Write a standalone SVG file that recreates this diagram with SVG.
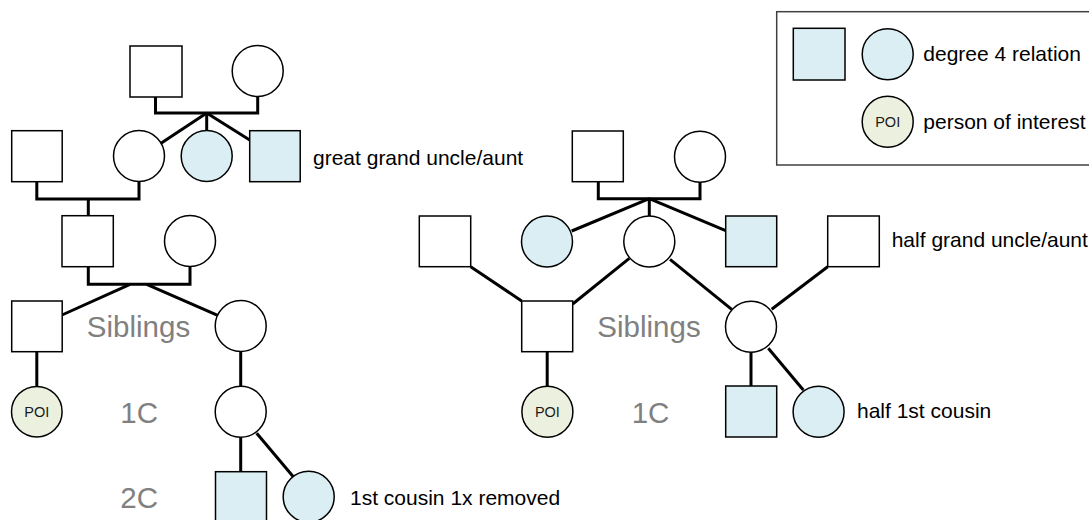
<svg xmlns="http://www.w3.org/2000/svg" width="1089" height="520" viewBox="0 0 1089 520">
  <style>
    .nd { fill: #ffffff; stroke: #000000; stroke-width: 1.5; }
    .d4 { fill: #DAEEF3; }
    .poi { fill: #EBF1DE; }
    .conn path { fill: none; stroke: #000000; stroke-width: 3; stroke-linejoin: miter; }
    .lbl { font-family: "Liberation Sans", Arial, sans-serif; font-size: 21px; fill: #000000; }
    .gen { font-family: "Liberation Sans", Arial, sans-serif; font-size: 29.5px; fill: #808080; text-anchor: middle; }
    .poit { font-family: "Liberation Sans", Arial, sans-serif; font-size: 14.5px; fill: #1a1a1a; text-anchor: middle; }
    .legend { fill: #ffffff; stroke: #404040; stroke-width: 1.5; }
  </style>

  <rect width="1089" height="520" fill="#ffffff"/>

  <!-- connectors -->
  <g id="connectors" class="conn">
    <!-- left tree: great grandparents -->
    <path d="M155.5 97 V113 H257.7 V96.5"/>
    <path d="M206.7 113 L161 143.3"/>
    <path d="M206.7 113 V130.5"/>
    <path d="M206.7 113 L249.7 140"/>
    <!-- left tree: grandparents -->
    <path d="M36.8 181.7 V199 H139 V181.5"/>
    <path d="M88.3 199 V215.7"/>
    <!-- left tree: parents -->
    <path d="M88.3 266.7 V284.3 H190 V266.5"/>
    <path d="M130 284.3 L62 315"/>
    <path d="M146.7 284.3 L218.3 315.7"/>
    <!-- left tree: children -->
    <path d="M36.8 351.7 V386.4"/>
    <path d="M240.7 351.5 V386.2"/>
    <path d="M240.7 437.2 V471.7"/>
    <path d="M256.7 433.3 L293.3 476.7"/>

    <!-- right tree: grandparents -->
    <path d="M598.3 181.7 V198.7 H700 V182.2"/>
    <path d="M649.3 198.7 L571.7 231"/>
    <path d="M649.3 198.7 V216"/>
    <path d="M649.3 198.7 L725.7 230.7"/>
    <!-- right tree: parents -->
    <path d="M470.7 266.7 L521.7 301"/>
    <path d="M629.3 258.3 L572.7 304"/>
    <path d="M670 259.3 L731.7 309.3"/>
    <path d="M827.7 266.7 L771.7 309.3"/>
    <!-- right tree: children -->
    <path d="M547.2 351.7 V386.3"/>
    <path d="M751 352.2 V386"/>
    <path d="M768.3 348.3 L803.3 390"/>
  </g>

  <!-- legend -->
  <g id="legend">
    <rect class="legend" x="776.7" y="11.7" width="330" height="153.3"/>
    <rect class="nd d4" x="793.3" y="28.3" width="51.7" height="51.7"/>
    <circle class="nd d4" cx="887.7" cy="54.3" r="25.5"/>
    <text class="lbl" x="923.3" y="61">degree 4 relation</text>
    <circle class="nd poi" cx="887.7" cy="121.7" r="25.5"/>
    <text class="poit" x="887.7" y="126.9">POI</text>
    <text class="lbl" x="923.3" y="128.5">person of interest</text>
  </g>

  <!-- left tree nodes -->
  <g id="L-ggf"><rect class="nd" x="130" y="46" width="52" height="51"/></g>
  <g id="L-ggm"><circle class="nd" cx="257.7" cy="71" r="25.5"/></g>

  <g id="L-gf"><rect class="nd" x="11.7" y="130.7" width="50.5" height="51"/></g>
  <g id="L-gm"><circle class="nd" cx="139" cy="156" r="25.5"/></g>
  <g id="L-gga1"><circle class="nd d4" cx="206.7" cy="156" r="25.5"/></g>
  <g id="L-ggu1">
    <rect class="nd d4" x="249.7" y="130.7" width="50.5" height="51"/>
    <text class="lbl" x="313" y="164.5">great grand uncle/aunt</text>
  </g>

  <g id="L-f"><rect class="nd" x="62" y="215.7" width="51.3" height="51"/></g>
  <g id="L-m"><circle class="nd" cx="190" cy="241" r="25.5"/></g>

  <g id="L-sib1"><rect class="nd" x="11.7" y="301" width="50.5" height="50.7"/></g>
  <g id="L-sib2"><circle class="nd" cx="240.7" cy="326" r="25.5"/></g>

  <g id="L-poi">
    <circle class="nd poi" cx="36.8" cy="411.7" r="25.3"/>
    <text class="poit" x="36.8" y="416.9">POI</text>
  </g>
  <g id="L-c1"><circle class="nd" cx="240.7" cy="411.7" r="25.5"/></g>

  <g id="L-c2a"><rect class="nd d4" x="215.5" y="471.7" width="51" height="51"/></g>
  <g id="L-c2b">
    <circle class="nd d4" cx="308.7" cy="496.8" r="25.5"/>
    <text class="lbl" x="350" y="505">1st cousin 1x removed</text>
  </g>

  <!-- generation labels -->
  <g id="gen-labels">
    <text class="gen" x="138.5" y="336.7">Siblings</text>
    <text class="gen" x="139.2" y="422.7">1C</text>
    <text class="gen" x="139.2" y="508.3">2C</text>
    <text class="gen" x="649" y="336.7">Siblings</text>
    <text class="gen" x="650.5" y="422.7">1C</text>
  </g>

  <!-- right tree nodes -->
  <g id="R-ggf"><rect class="nd" x="572.3" y="131" width="51" height="50.7"/></g>
  <g id="R-ggm"><circle class="nd" cx="700" cy="156.7" r="25.5"/></g>

  <g id="R-gf1"><rect class="nd" x="419.3" y="216" width="51.4" height="50.7"/></g>
  <g id="R-hga1"><circle class="nd d4" cx="547" cy="241.5" r="25.5"/></g>
  <g id="R-gm"><circle class="nd" cx="649.3" cy="241.5" r="25.5"/></g>
  <g id="R-hgu1"><rect class="nd d4" x="725.7" y="216" width="51" height="50.7"/></g>
  <g id="R-gf2">
    <rect class="nd" x="827.7" y="216" width="51.6" height="50.7"/>
    <text class="lbl" x="891.7" y="247">half grand uncle/aunt</text>
  </g>

  <g id="R-sib1"><rect class="nd" x="521.7" y="301" width="51" height="50.7"/></g>
  <g id="R-sib2"><circle class="nd" cx="751" cy="326.7" r="25.5"/></g>

  <g id="R-poi">
    <circle class="nd poi" cx="547.4" cy="411.8" r="25.5"/>
    <text class="poit" x="547.4" y="417">POI</text>
  </g>
  <g id="R-hc1a"><rect class="nd d4" x="725.7" y="386" width="51" height="51"/></g>
  <g id="R-hc1b">
    <circle class="nd d4" cx="818.6" cy="411.7" r="25.5"/>
    <text class="lbl" x="857" y="418">half 1st cousin</text>
  </g>
</svg>
